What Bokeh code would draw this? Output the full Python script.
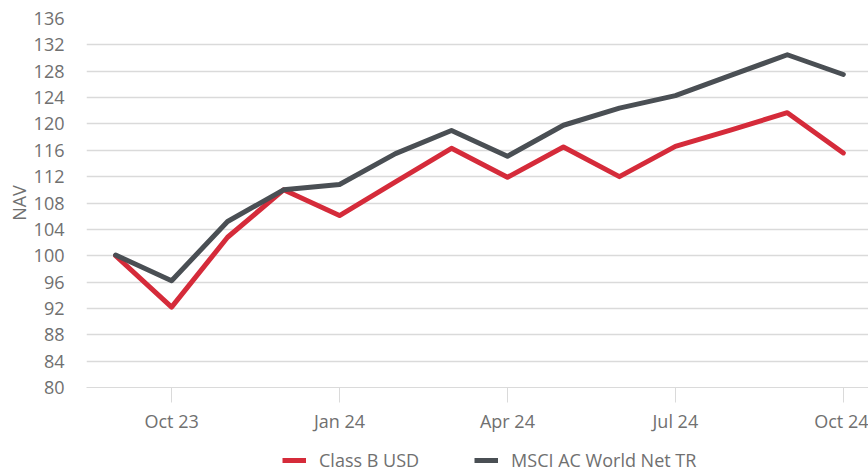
from bokeh.plotting import figure
from bokeh.models import Range1d, FixedTicker, Legend, LegendItem, ColumnDataSource
from bokeh.layouts import column
from bokeh.embed import file_html
from bokeh.resources import INLINE

months = ["Sep 23", "Oct 23", "Nov 23", "Dec 23", "Jan 24", "Feb 24", "Mar 24",
          "Apr 24", "May 24", "Jun 24", "Jul 24", "Aug 24", "Sep 24", "Oct 24"]
class_b_usd = [100.0, 92.2, 102.8, 110.0, 106.1, 111.2, 116.3, 111.9, 116.5, 112.0, 116.6, 119.1, 121.7, 115.6]
msci_acwi = [100.1, 96.2, 105.2, 110.0, 110.8, 115.5, 119.0, 115.1, 119.8, 122.4, 124.3, 127.4, 130.5, 127.5]
series_names = ["Class B USD", "MSCI AC World Net TR"]
y_ticks = list(range(80, 137, 4))
x_tick_labels = ["Oct 23", "Jan 24", "Apr 24", "Jul 24", "Oct 24"]

idx = list(range(len(months)))
src = ColumnDataSource(dict(x=idx, b=class_b_usd, m=msci_acwi))

FONT = "Open Sans"
FS = "18px"
TXT = "#707070"
GRID = "#dadada"
RED = "#d52b3a"
DARK = "#4a4f54"

p = figure(width=868, height=440, output_backend="svg", toolbar_location=None,
           x_range=Range1d(-0.52, 13.45), y_range=Range1d(80, 136),
           min_border_left=86, min_border_right=0, min_border_top=18, min_border_bottom=53)
p.outline_line_color = None

p.line("x", "b", source=src, line_color=RED, line_width=5, line_join="round", line_cap="round")
p.line("x", "m", source=src, line_color=DARK, line_width=5, line_join="round", line_cap="round")

# x axis
tick_idx = [months.index(t) for t in x_tick_labels]
p.xaxis.ticker = FixedTicker(ticks=tick_idx)
p.xaxis.major_label_overrides = {i: months[i] for i in tick_idx}
p.xaxis.axis_line_color = GRID
p.xaxis.major_tick_line_color = GRID
p.xaxis.major_tick_in = 0
p.xaxis.major_tick_out = 15
p.xaxis.minor_tick_line_color = None
p.xaxis.major_label_standoff = 6
p.xaxis.major_label_text_font = FONT
p.xaxis.major_label_text_font_size = FS
p.xaxis.major_label_text_color = TXT
p.xgrid.grid_line_color = None

# y axis
p.yaxis.ticker = FixedTicker(ticks=y_ticks)
p.yaxis.axis_line_color = None
p.yaxis.major_tick_line_color = None
p.yaxis.major_tick_out = 0
p.yaxis.major_tick_in = 0
p.yaxis.minor_tick_line_color = None
p.yaxis.major_label_standoff = 22
p.yaxis.major_label_text_font = FONT
p.yaxis.major_label_text_font_size = FS
p.yaxis.major_label_text_color = TXT
p.yaxis.axis_label = "NAV"
p.yaxis.axis_label_text_font = FONT
p.yaxis.axis_label_text_font_size = FS
p.yaxis.axis_label_text_font_style = "normal"
p.yaxis.axis_label_text_color = TXT
p.yaxis.axis_label_standoff = 0
p.ygrid.grid_line_color = GRID
p.ygrid.grid_line_width = 1.5

# legend strip (legend swatches taken from hidden copies of the series renderers)
p2 = figure(width=868, height=33, output_backend="svg", toolbar_location=None,
            x_range=Range1d(-0.52, 13.45), y_range=Range1d(0, 33),
            x_axis_type=None, y_axis_type=None,
            min_border_left=0, min_border_right=0, min_border_top=0, min_border_bottom=0)
p2.outline_line_color = None
p2.grid.grid_line_color = None
e1 = p2.line("x", "b", source=src, line_color=RED, line_width=5, visible=False)
e2 = p2.line("x", "m", source=src, line_color=DARK, line_width=5, visible=False)

legend = Legend(items=[LegendItem(label=series_names[0], renderers=[e1]),
                       LegendItem(label=series_names[1], renderers=[e2])],
                orientation="horizontal", location=(196, 1),
                border_line_color=None, background_fill_alpha=0,
                inactive_fill_alpha=0,
                padding=0, margin=0, spacing=55, glyph_width=24, glyph_height=20,
                label_standoff=13, label_text_font=FONT, label_text_font_size=FS,
                label_text_color=TXT)
p2.add_layout(legend)

layout = column(p, p2, spacing=0)
open("out.html", "w").write(file_html(layout, INLINE))
